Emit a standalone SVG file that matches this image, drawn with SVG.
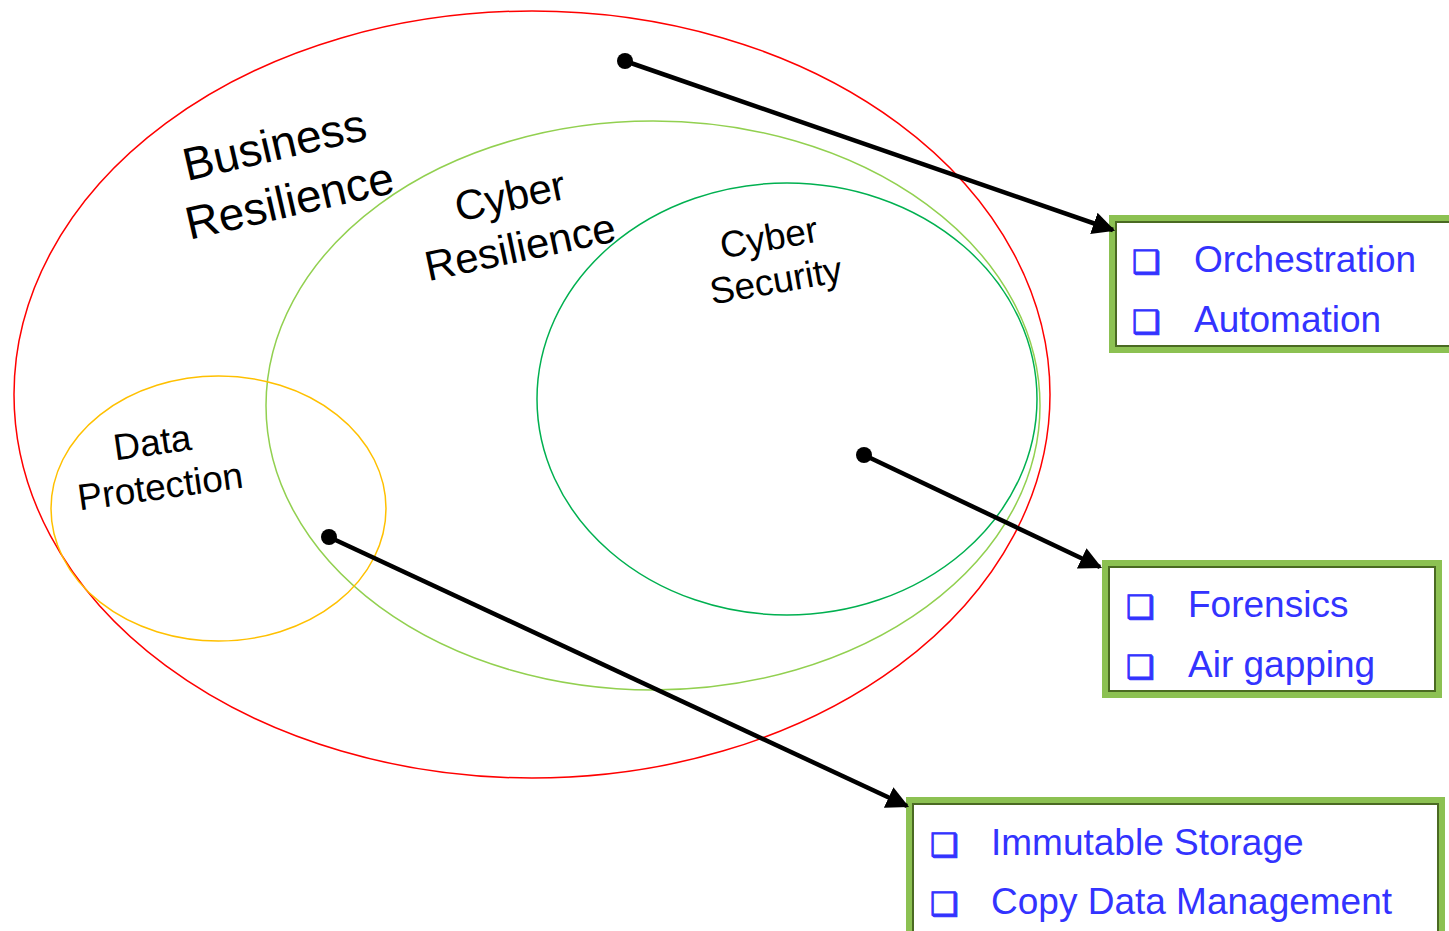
<svg xmlns="http://www.w3.org/2000/svg" width="1449" height="931" viewBox="0 0 1449 931">
<style>
.lbl{font-family:"Liberation Sans",Arial,sans-serif;fill:#000;text-anchor:middle}
.item{font-family:"Liberation Sans",Arial,sans-serif;font-size:37px;fill:#3333ff}
.bul{font-family:"DejaVu Sans",sans-serif;font-size:32px;font-weight:bold;fill:#3333ff;stroke:#3333ff;stroke-width:1}
.outer{fill:#fff;stroke:#8cc152;stroke-width:6}
.inner{fill:none;stroke:#4a6a22;stroke-width:2}
.conn{stroke:#000;stroke-width:4.5;fill:none}
</style>
<defs>
<marker id="ah" viewBox="0 0 10 10" refX="9" refY="5" markerWidth="5" markerHeight="5" orient="auto" markerUnits="strokeWidth">
<path d="M0,0 L10,5 L0,10 z" fill="#000"/>
</marker>
</defs>
<rect width="1449" height="931" fill="#fff"/>
<g id="business-resilience">
<ellipse cx="532" cy="394.5" rx="518" ry="383.5" fill="none" stroke="#ff0000" stroke-width="1.5"/>
<text class="lbl" font-size="46" transform="translate(278,160) rotate(-13)">Business</text>
<text class="lbl" font-size="46" transform="translate(293,216) rotate(-13)">Resilience</text>
</g>
<g id="cyber-resilience">
<ellipse cx="653" cy="405.5" rx="387" ry="284.5" fill="none" stroke="#92d050" stroke-width="1.5"/>
<text class="lbl" font-size="42" transform="translate(513,210) rotate(-12)">Cyber</text>
<text class="lbl" font-size="42" transform="translate(523,261) rotate(-12)">Resilience</text>
</g>
<g id="cyber-security">
<ellipse cx="787" cy="399" rx="250" ry="216" fill="none" stroke="#00b050" stroke-width="1.5"/>
<text class="lbl" font-size="37" transform="translate(771,250) rotate(-10)">Cyber</text>
<text class="lbl" font-size="37" transform="translate(778,293) rotate(-10)">Security</text>
</g>
<g id="data-protection">
<ellipse cx="218.5" cy="508.5" rx="167.5" ry="132.5" fill="none" stroke="#ffc000" stroke-width="1.5"/>
<text class="lbl" font-size="37" transform="translate(154,455) rotate(-8)">Data</text>
<text class="lbl" font-size="37" transform="translate(162,499) rotate(-8)">Protection</text>
</g>
<g id="box-orchestration">
<rect class="outer" x="1112" y="218" width="345" height="132"/>
<rect class="inner" x="1116" y="222" width="345" height="124"/>
<text class="bul" x="1132" y="273">❑</text>
<text class="item" x="1194" y="272">Orchestration</text>
<text class="bul" x="1132" y="333">❑</text>
<text class="item" x="1194" y="332">Automation</text>
</g>
<g id="box-forensics">
<rect class="outer" x="1105" y="563" width="334" height="132"/>
<rect class="inner" x="1109" y="567" width="326" height="124"/>
<text class="bul" x="1126" y="618">❑</text>
<text class="item" x="1188" y="617">Forensics</text>
<text class="bul" x="1126" y="678">❑</text>
<text class="item" x="1188" y="677">Air gapping</text>
</g>
<g id="box-storage">
<rect class="outer" x="909" y="800" width="533" height="140"/>
<rect class="inner" x="913" y="804" width="525" height="140"/>
<text class="bul" x="930" y="856">❑</text>
<text class="item" x="991" y="855">Immutable Storage</text>
<text class="bul" x="930" y="915">❑</text>
<text class="item" x="991" y="914">Copy Data Management</text>
</g>
<g id="connectors">
<circle cx="625" cy="61" r="8" fill="#000"/>
<line class="conn" x1="625" y1="61" x2="1113" y2="230" marker-end="url(#ah)"/>
<circle cx="864" cy="455" r="8" fill="#000"/>
<line class="conn" x1="864" y1="455" x2="1100" y2="567" marker-end="url(#ah)"/>
<circle cx="329" cy="537" r="8" fill="#000"/>
<line class="conn" x1="329" y1="537" x2="907" y2="806" marker-end="url(#ah)"/>
</g>
</svg>
